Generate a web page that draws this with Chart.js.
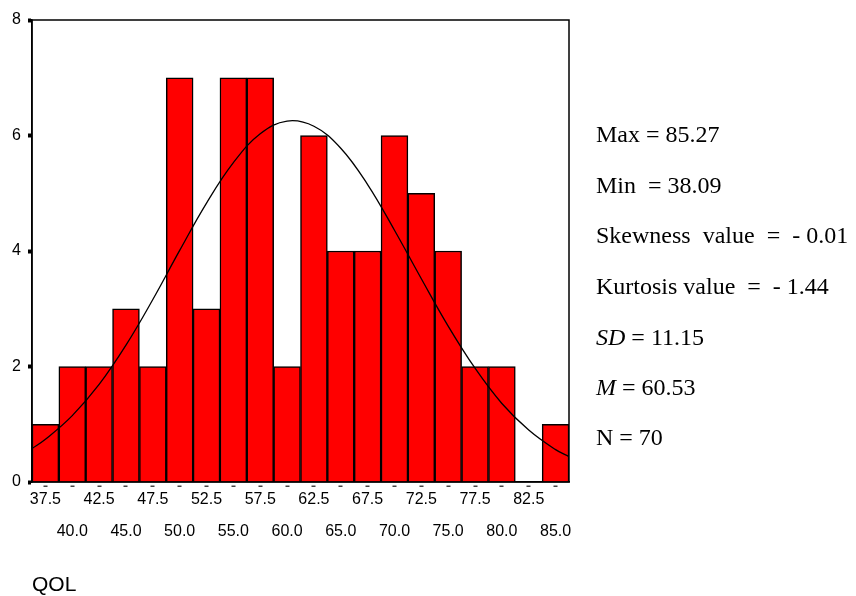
<!DOCTYPE html>
<html>
<head>
<meta charset="utf-8">
<script src="https://cdn.jsdelivr.net/npm/chart.js@4/dist/chart.umd.min.js"></script>
<style>
  body { margin: 0; background: #fff; }
  #wrap { position: relative; width: 856px; height: 596px; }
  .stat { position: absolute; left: 596px; font-family: "Liberation Serif", "Times New Roman", serif;
          font-size: 24px; line-height: 26px; white-space: pre; color: #000; }
  #qol { position: absolute; left: 32px; top: 572px; font-family: "Liberation Sans", Arial, sans-serif;
         font-size: 21px; line-height: 24px; color: #000; }
</style>
</head>
<body>
<div id="wrap">
  <canvas id="hist" width="856" height="596"></canvas>
  <div class="stat" style="top:121px">Max = 85.27</div>
  <div class="stat" style="top:172px">Min  = 38.09</div>
  <div class="stat" style="top:222px">Skewness  value  =  - 0.01</div>
  <div class="stat" style="top:273px">Kurtosis value  =  - 1.44</div>
  <div class="stat" style="top:324px"><i>SD</i> = 11.15</div>
  <div class="stat" style="top:374px"><i>M</i> = 60.53</div>
  <div class="stat" style="top:424px">N = 70</div>
  <div id="qol">QOL</div>
</div>
<script>
const categories = ['37.5', '40.0', '42.5', '45.0', '47.5', '50.0', '52.5', '55.0', '57.5', '60.0',
                    '62.5', '65.0', '67.5', '70.0', '72.5', '75.0', '77.5', '80.0', '82.5', '85.0']
const counts = [1, 2, 2, 3, 2, 7, 3, 7, 7, 2, 6, 4, 4, 6, 5, 4, 2, 2, 0, 1]

// normal curve
const curveX = [36.25, 37.5, 40, 42.5, 45, 47.5, 50, 52.5, 55, 57.5, 60,
                62.5, 65, 67.5, 70, 72.5, 75, 77.5, 80, 82.5, 85, 86.25]
const curveY = [0.58, 0.74, 1.15, 1.69, 2.37, 3.16, 4.01, 4.83, 5.53, 6.03, 6.25,
                6.16, 5.78, 5.15, 4.36, 3.52, 2.70, 1.97, 1.36, 0.90, 0.56, 0.44]

const yTicks = [0, 2, 4, 6, 8]

const framePlugin = {
    id: 'frame',
    afterDatasetsDraw(chart) {
        const { ctx, chartArea } = chart
        ctx.save()
        ctx.strokeStyle = '#000'
        ctx.lineWidth = 1.5
        ctx.strokeRect(chartArea.left, chartArea.top, chartArea.right - chartArea.left, chartArea.bottom - chartArea.top)
        ctx.restore()
    }
}

const fontFamily = '"Liberation Sans", Arial, sans-serif'

new Chart(document.getElementById('hist').getContext('2d'), {
    type: 'bar',
    data: {
        labels: categories,
        datasets: [
            {
                type: 'line',
                data: curveX.map((x, i) => ({ x: x, y: curveY[i] })),
                xAxisID: 'x2',
                borderColor: '#000',
                borderWidth: 1.3,
                pointRadius: 0,
                tension: 0.4,
                fill: false,
                order: 0
            },
            {
                type: 'bar',
                data: counts,
                xAxisID: 'x',
                backgroundColor: '#ff0000',
                borderColor: '#000',
                borderWidth: 1.5,
                barPercentage: 1,
                categoryPercentage: 1,
                grouped: false,
                order: 1
            }
        ]
    },
    options: {
        responsive: false,
        animation: false,
        layout: { padding: { left: 0, top: 20, right: 287, bottom: 0 } },
        plugins: { legend: { display: false }, tooltip: { enabled: false } },
        scales: {
            x: {
                type: 'category',
                offset: true,
                grid: {
                    drawOnChartArea: false, offset: false, tickLength: 5, tickColor: '#444',
                    tickWidth: 4, tickBorderDash: [0, 3, 2, 20]
                },
                border: { display: true, color: '#000', width: 1.5 },
                ticks: {
                    autoSkip: false,
                    maxRotation: 0,
                    color: '#000',
                    font: { family: fontFamily, size: 16, lineHeight: 2 },
                    padding: -3,
                    callback: (v, i) => i % 2 === 0 ? [categories[i], ''] : ['', categories[i]]
                },
                afterFit(scale) { scale.height = 114 }
            },
            x2: {
                type: 'linear',
                min: 36.25,
                max: 86.25,
                offset: false,
                display: false
            },
            y: {
                min: 0,
                max: 8,
                afterBuildTicks(scale) { scale.ticks = yTicks.map(v => ({ value: v })) },
                grid: { drawOnChartArea: false, tickLength: 4, tickWidth: 4, tickColor: '#000' },
                border: { display: true, color: '#000', width: 1.5 },
                ticks: { color: '#000', font: { family: fontFamily, size: 16 }, padding: 7 },
                afterFit(scale) { scale.width = 32 }
            }
        }
    },
    plugins: [framePlugin]
})
</script>
</body>
</html>
